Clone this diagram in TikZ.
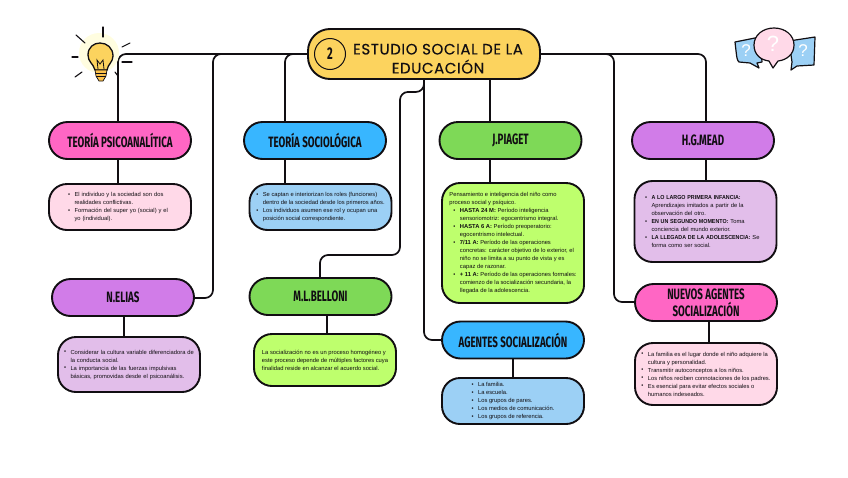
\documentclass[tikz,border=0pt]{standalone}
\usepackage{fontspec}
\setmainfont{Liberation Sans}
\newfontfamily\headfont[FakeStretch=0.65]{Fira Sans}
\newfontfamily\titlefont[LetterSpace=4,FakeBold=0.3]{Poppins}
\usetikzlibrary{positioning, calc}
\definecolor{mapink}{RGB}{17,14,18}
\definecolor{mapyellow}{RGB}{252,211,94}
\definecolor{mappink}{RGB}{255,102,196}
\definecolor{maplightpink}{RGB}{255,217,232}
\definecolor{mapblue}{RGB}{56,182,255}
\definecolor{maplightblue}{RGB}{156,208,245}
\definecolor{mapgreen}{RGB}{126,217,87}
\definecolor{maplightgreen}{RGB}{190,255,109}
\definecolor{mappurple}{RGB}{209,124,232}
\definecolor{maplightpurple}{RGB}{226,190,234}
\newcommand{\dotitem}[1]{\makebox[6.5pt][l]{\raisebox{.2pt}{\textbullet}}#1}
\newcommand{\dotnext}[1]{\hspace*{6.5pt}#1}
\newcommand{\capsbf}[1]{\scalebox{.92}[1]{\textbf{#1}}}
\tikzset{
  headblock/.style={
    rectangle, rounded corners=18.5pt, draw=mapink, line width=1.9pt,
    minimum width=142pt, minimum height=37pt,
    align=center, text=mapink, font=\headfont\bfseries\fontsize{15}{17}\selectfont
  },
  noteblock/.style={
    rectangle, rounded corners=18pt, draw=mapink, line width=1.9pt,
    minimum width=142pt, inner sep=0pt,
    align=left, text=mapink, font=\fontsize{5.8}{8}\selectfont
  },
  linkline/.style={draw=mapink, line width=1.7pt, rounded corners=8pt},
  raystroke/.style={draw=mapink, line width=1.1pt, line cap=round},
  bubbleline/.style={draw=mapink, line width=1.2pt, line join=round},
  bubblemark/.style={text=white, font=\fontsize{#1}{#1}\selectfont}
}
\begin{document}
\begin{tikzpicture}[x=1pt, y=-1pt]
\useasboundingbox (0,0) rectangle (848,477);

% free ends of the links
\coordinate (psicoin) at (118,121);
\coordinate (sociain) at (285,121);
\coordinate (piagetin) at (490,121);
\coordinate (meadin) at (706,121);
\coordinate (nuevosbend) at (614,302);
\coordinate (eliasbend) at (213,298);
\coordinate (bellonibend) at (400,255);
\coordinate (belloniin) at (320,277);

% Title
\node[rectangle, rounded corners=22pt, draw=mapink, line width=1.9pt, fill=mapyellow,
  minimum width=232pt, minimum height=50pt, align=center, text=mapink,
  font=\titlefont\fontsize{15}{19}\selectfont] (title) at (424,54)
  {\rule{0pt}{20pt}\hspace*{28pt}ESTUDIO SOCIAL DE LA\\\hspace*{28pt}EDUCACIÓN};
\node[circle, draw=mapink, line width=1pt, minimum size=31pt, inner sep=0pt, text=mapink,
  font=\headfont\bfseries\fontsize{17}{17}\selectfont] (titlenum) at (330,54) {2};

% Row 1
\node[headblock, fill=mappink] (psico) at (120,140.5) {TEORÍA PSICOANALÍTICA};
\node[noteblock, fill=maplightpink, minimum height=46pt, text width=104pt] (psicotxt) at (120,207)
  {\dotitem{El individuo y la sociedad son dos}\\
   \dotnext{realidades conflictivas.}\\
   \dotitem{Formación del super yo (social) y el}\\
   \dotnext{yo (individual).}};

\node[headblock, fill=mapblue] (socia) at (315,140.5) {TEORÍA SOCIOLÓGICA};
\node[noteblock, fill=maplightblue, minimum height=46pt] (sociatxt) at (320.5,207)
  {\dotitem{Se captan e interiorizan los roles (funciones)}\\
   \dotnext{dentro de la sociedad desde los primeros años.}\\
   \dotitem{Los individuos asumen ese rol y ocupan una}\\
   \dotnext{posición social correspondiente.}};

\node[headblock, fill=mapgreen] (piaget) at (510.5,140.5) {J.PIAGET};
\node[noteblock, fill=maplightgreen, minimum height=120pt] (piagettxt) at (513,243)
  {Pensamiento e inteligencia del niño como\\
   proceso social y psíquico.\\
   \hspace*{4pt}\dotitem{\textbf{HASTA 24 M:} Período inteligencia}\\
   \hspace*{4pt}\dotnext{sensoriomotriz: egocentrismo integral.}\\
   \hspace*{4pt}\dotitem{\textbf{HASTA 6 A:} Período preoperatorio:}\\
   \hspace*{4pt}\dotnext{egocentrismo intelectual.}\\
   \hspace*{4pt}\dotitem{\textbf{7/11 A:} Período de las operaciones}\\
   \hspace*{4pt}\dotnext{concretas: carácter objetivo de lo exterior, el}\\
   \hspace*{4pt}\dotnext{niño no se limita a su punto de vista y es}\\
   \hspace*{4pt}\dotnext{capaz de razonar.}\\
   \hspace*{4pt}\dotitem{\textbf{+ 11 A:} Período de las operaciones formales:}\\
   \hspace*{4pt}\dotnext{comienzo de la socialización secundaria, la}\\
   \hspace*{4pt}\dotnext{llegada de la adolescencia.}};

\node[headblock, fill=mappurple] (mead) at (703,140.5) {H.G.MEAD};
\node[noteblock, fill=maplightpurple, minimum height=81pt, text width=121pt] (meadtxt) at (705.5,221.5)
  {\dotitem{\capsbf{A LO LARGO PRIMERA INFANCIA:}}\\
   \dotnext{Aprendizajes imitados a partir de la}\\
   \dotnext{observación del otro.}\\
   \dotitem{\capsbf{EN UN SEGUNDO MOMENTO:} Toma}\\
   \dotnext{conciencia del mundo exterior.}\\
   \mbox{\dotitem{\capsbf{LA LLEGADA DE LA ADOLESCENCIA:} Se}}\\
   \dotnext{forma como ser social.}};

% Row 2
\node[headblock, fill=mappurple] (elias) at (123,297.5) {N.ELIAS};
\node[noteblock, fill=maplightpurple, minimum height=55pt, text width=130pt] (eliastxt) at (129,364.5)
  {\dotitem{Considerar la cultura variable diferenciadora de}\\
   \dotnext{la conducta social.}\\
   \dotitem{La importancia de las fuerzas impulsivas}\\
   \dotnext{básicas, promovidas desde el psicoanálisis.}};

\node[headblock, fill=mapgreen] (belloni) at (320.5,296.5) {M.L.BELLONI};
\node[noteblock, fill=maplightgreen, minimum height=52pt] (bellonitxt) at (325,360)
  {La socialización no es un proceso homogéneo y\\
   este proceso depende de múltiples factores cuya\\
   finalidad reside en alcanzar el acuerdo social.};

\node[headblock, fill=mapblue] (agentes) at (513,340) {AGENTES SOCIALIZACIÓN};
\node[noteblock, fill=maplightblue, minimum height=46pt] (agentestxt) at (513,401)
  {\dotitem{La familia.}\\
   \dotitem{La escuela.}\\
   \dotitem{Los grupos de pares.}\\
   \dotitem{Los medios de comunicación.}\\
   \dotitem{Los grupos de referencia.}};

\node[headblock, fill=mappink] (nuevos) at (706,302.5) {NUEVOS AGENTES\\SOCIALIZACIÓN};
\node[noteblock, fill=maplightpink, minimum height=62pt] (nuevostxt) at (706,374)
  {\dotitem{La familia es el lugar donde el niño adquiere la}\\
   \dotnext{cultura y personalidad.}\\
   \dotitem{Transmitir autoconceptos a los niños.}\\
   \dotitem{Los niños reciben connotaciones de los padres.}\\
   \dotitem{Es esencial para evitar efectos sociales o}\\
   \dotnext{humanos indeseados.}};

% Links
\draw[linkline] (title.west) -| (psicoin);
\draw[linkline] (title.west) -| (sociain);
\draw[linkline] (title.west) -| (eliasbend) -- (elias.east |- eliasbend);
\draw[linkline] (title.east) -| (meadin);
\draw[linkline] (title.east) -| (nuevosbend) -- (nuevos.west |- nuevosbend);
\draw[linkline] (title.south) |- (agentes.west);
\draw[linkline] (title.south) -- ++(0,12) -| (bellonibend) -| (belloniin);
\draw[linkline] (piagetin) -- (piagetin |- title.south);
\draw[linkline] (psico.south -| psicoin) -- (psicotxt.north -| psicoin);
\draw[linkline] (socia.south -| sociain) -- (sociatxt.north -| sociain);
\draw[linkline] (piagetin |- piaget.south) -- (piagetin |- piagettxt.north);
\draw[linkline] (meadin |- mead.south) -- (meadin |- meadtxt.north);
\draw[linkline] ([xshift=1pt]elias.south) -- ([xshift=1pt]elias.south |- eliastxt.north);
\draw[linkline] ([xshift=6.5pt]belloni.south) -- ([xshift=6.5pt]belloni.south |- bellonitxt.north);
\draw[linkline] (agentes.south) -- (agentestxt.north);
\draw[linkline] ([xshift=3pt]nuevos.south) -- ([xshift=3pt]nuevos.south |- nuevostxt.north);

% Bulb
\fill[yellow!12!white] (99,53) circle (20);
\draw[raystroke] (103,27) -- (103,37);
\draw[raystroke] (76,35) -- (85,43);
\draw[raystroke] (72,57) -- (78,57);
\draw[raystroke] (75,77) -- (82,72);
\draw[raystroke] (122,47) -- (130,43);
\draw[raystroke] (122,62) -- (132,62);
\draw[raystroke] (115,72) -- (118,76);
\draw[draw=mapink, line width=1.3pt, fill=mapyellow]
  (95,70) .. controls (93,63) and (88,62) .. (88,55)
  .. controls (88,47) and (94,43) .. (100,43)
  .. controls (107,43) and (113,48) .. (113,56)
  .. controls (113,62) and (108,64) .. (107,70) -- cycle;
\draw[draw=mapink, line width=.7pt, fill=mapyellow!80!orange]
  (95,70) -- (107,70) -- (106,76) -- (103,81) -- (99,81) -- (96,76) -- cycle;
\draw[draw=mapink, line width=.5pt] (95.5,73) -- (106.5,73) (96,76) -- (106,76);
\draw[draw=mapink, line width=.8pt] (98,69) -- (97,60) -- (100,64) -- (103,60) -- (104,69);

% Bubbles
\draw[bubbleline, fill=maplightblue]
  (735,42) -- (760,37) -- (762,62) -- (757,63) -- (759,68) -- (750,63) -- (739,62)
  .. controls (737,60) .. cycle;
\draw[bubbleline, fill=maplightblue]
  (789,41) -- (815,37) -- (814,65) -- (797,66) -- (791,70) -- (792,62) -- cycle;
\draw[bubbleline, fill=maplightpink]
  (769,61) .. controls (760,60) and (754,54) .. (754,45)
  .. controls (754,35) and (763,28) .. (774,28)
  .. controls (785,28) and (794,35) .. (794,45)
  .. controls (794,54) and (787,60) .. (778,61)
  -- (773,68) -- cycle;
\node[bubblemark=17] (markleft) at (746,51) {?};
\node[bubblemark=22] (markmid) at (773,44) {?};
\node[bubblemark=17] (markright) at (803,51) {?};
\end{tikzpicture}
\end{document}
